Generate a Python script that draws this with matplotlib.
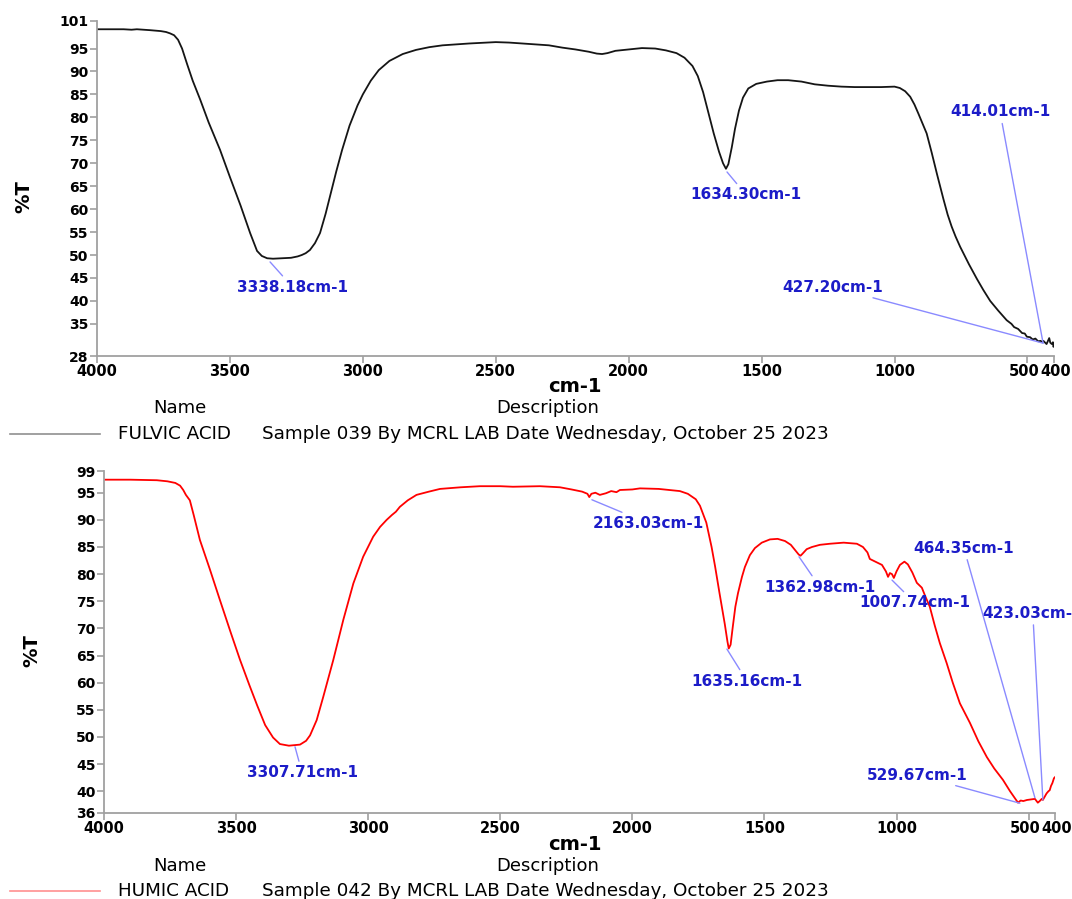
import matplotlib
matplotlib.use('Agg')
import matplotlib.pyplot as plt
from matplotlib.transforms import ScaledTranslation

plt.rcParams['font.family'] = ['DejaVu Sans']

# FULVIC ACID spectrum: (wavenumber cm-1, %T)
fulvic = [(4000, 99.2), (3950, 99.2), (3900, 99.2), (3870, 99.1), (3850, 99.2), (3800, 99.0),
          (3760, 98.8), (3740, 98.6), (3725, 98.3), (3710, 97.9), (3695, 96.9), (3680, 95.0),
          (3661, 91.6), (3640, 88.0), (3612, 83.9), (3580, 78.9), (3537, 72.9), (3500, 67.0),
          (3460, 60.8), (3424, 54.8), (3398, 50.9), (3380, 49.8), (3360, 49.3), (3338, 49.2),
          (3300, 49.3), (3270, 49.4), (3245, 49.7), (3230, 50.0), (3215, 50.4), (3199, 51.1),
          (3180, 52.6), (3161, 54.8), (3140, 59.0), (3120, 63.6), (3100, 68.2), (3078, 72.9),
          (3050, 78.2), (3020, 82.6), (3000, 85.0), (2970, 88.0), (2940, 90.3), (2900, 92.3),
          (2850, 93.8), (2800, 94.7), (2750, 95.3), (2700, 95.7), (2600, 96.1), (2500, 96.4),
          (2450, 96.3), (2400, 96.1), (2300, 95.7), (2250, 95.2), (2200, 94.8), (2150, 94.3),
          (2120, 93.9), (2100, 93.8), (2080, 94.0), (2050, 94.5), (2000, 94.8), (1950, 95.1),
          (1900, 95.0), (1860, 94.6), (1820, 94.0), (1790, 93.0), (1760, 91.2), (1740, 89.0),
          (1720, 85.5), (1700, 81.0), (1680, 76.5), (1660, 72.5), (1645, 70.0), (1634, 68.8),
          (1625, 69.8), (1612, 73.5), (1600, 77.5), (1585, 81.5), (1570, 84.3), (1550, 86.3),
          (1520, 87.3), (1480, 87.8), (1440, 88.1), (1400, 88.1), (1350, 87.8), (1300, 87.2),
          (1250, 86.9), (1200, 86.7), (1150, 86.6), (1100, 86.6), (1050, 86.6), (1000, 86.7),
          (980, 86.4), (960, 85.7), (941, 84.5), (925, 82.8), (910, 80.8), (895, 78.7),
          (879, 76.5), (860, 72.3), (840, 67.6), (816, 62.2), (800, 58.8), (785, 56.2),
          (770, 54.0), (753, 51.8), (735, 49.7), (720, 48.0), (690, 44.8), (666, 42.4),
          (640, 40.0), (610, 37.9), (578, 35.8), (560, 35.0), (550, 34.3), (535, 33.9),
          (520, 33.0), (510, 32.9), (502, 32.2), (490, 32.1), (480, 31.6), (470, 31.8),
          (460, 31.2), (450, 31.3), (445, 31.0), (440, 31.3), (435, 31.0), (428, 30.6),
          (422, 31.4), (418, 31.9), (414, 30.9), (408, 30.6), (404, 31.0), (402, 30.0),
          (400, 30.3)]

# HUMIC ACID spectrum: (wavenumber cm-1, %T)
humic = [(4000, 97.4), (3900, 97.4), (3800, 97.3), (3760, 97.1), (3730, 96.8), (3712, 96.3),
         (3700, 95.5), (3690, 94.6), (3675, 93.6), (3660, 90.8), (3637, 86.3), (3600, 81.0),
         (3561, 75.2), (3520, 69.2), (3485, 64.2), (3450, 59.6), (3420, 55.8), (3390, 52.2),
         (3360, 49.9), (3334, 48.7), (3300, 48.4), (3258, 48.6), (3235, 49.3), (3220, 50.3),
         (3195, 53.1), (3170, 57.4), (3132, 64.2), (3094, 71.6), (3056, 78.3), (3019, 83.2),
         (2981, 86.9), (2955, 88.7), (2930, 90.0), (2910, 90.9), (2895, 91.5), (2880, 92.4),
         (2850, 93.6), (2817, 94.6), (2770, 95.2), (2728, 95.7), (2650, 96.0), (2577, 96.2),
         (2500, 96.2), (2452, 96.1), (2350, 96.2), (2274, 96.0), (2230, 95.6), (2190, 95.2),
         (2170, 94.8), (2163, 94.2), (2155, 94.8), (2140, 95.0), (2123, 94.6), (2100, 94.9),
         (2080, 95.3), (2060, 95.1), (2047, 95.5), (2000, 95.6), (1971, 95.8), (1900, 95.7),
         (1860, 95.5), (1820, 95.3), (1790, 94.8), (1760, 93.8), (1744, 92.6), (1720, 89.5),
         (1700, 85.0), (1687, 81.5), (1670, 76.5), (1650, 70.8), (1640, 67.6), (1635, 66.3),
         (1628, 67.0), (1620, 70.2), (1610, 74.0), (1600, 76.5), (1585, 79.5), (1574, 81.3),
         (1555, 83.5), (1536, 84.8), (1510, 85.8), (1479, 86.4), (1450, 86.5), (1422, 86.1),
         (1400, 85.4), (1385, 84.5), (1370, 83.6), (1363, 83.4), (1355, 83.8), (1340, 84.6),
         (1320, 85.0), (1290, 85.4), (1252, 85.6), (1200, 85.8), (1176, 85.7), (1150, 85.6),
         (1127, 85.0), (1110, 84.0), (1101, 82.8), (1080, 82.3), (1055, 81.7), (1040, 80.5),
         (1032, 79.5), (1025, 80.2), (1017, 80.0), (1010, 79.3), (1000, 80.5), (987, 81.7),
         (970, 82.3), (957, 81.8), (940, 80.3), (923, 78.4), (904, 77.5), (890, 75.8),
         (874, 74.0), (855, 70.5), (836, 67.3), (810, 63.6), (787, 60.0), (760, 56.2),
         (722, 52.6), (690, 49.2), (658, 46.3), (630, 44.2), (597, 42.1), (570, 40.0),
         (540, 37.9), (530, 38.3), (520, 38.2), (506, 38.4), (490, 38.5), (476, 38.6),
         (470, 38.2), (465, 37.9), (458, 38.2), (450, 38.6), (446, 38.4), (440, 38.9),
         (432, 39.6), (425, 40.0), (420, 40.2), (415, 41.0), (410, 41.5), (404, 42.4),
         (400, 42.6)]

fulvic_wn, fulvic_t = zip(*fulvic)
humic_wn, humic_t = zip(*humic)

x_ticks = [4000, 3500, 3000, 2500, 2000, 1500, 1000, 500, 400]
fulvic_yticks = [28, 35, 40, 45, 50, 55, 60, 65, 70, 75, 80, 85, 90, 95, 101]
humic_yticks = [36, 40, 45, 50, 55, 60, 65, 70, 75, 80, 85, 90, 95, 99]

# peak labels: (label, leader end on curve, text position)
fulvic_peaks = [('3338.18cm-1', (3349, 48.5), (3264, 43.0)),
                ('1634.30cm-1', (1630, 68.1), (1558, 63.1)),
                ('414.01cm-1', (441, 30.8), (603, 81.2)),
                ('427.20cm-1', (441, 30.8), (1231, 43.0))]
humic_peaks = [('3307.71cm-1', (3277, 48.2), (3250, 43.4)),
               ('2163.03cm-1', (2153, 93.7), (1941, 89.4)),
               ('1635.16cm-1', (1642, 66.2), (1566, 60.3)),
               ('1362.98cm-1', (1369, 83.2), (1290, 77.6)),
               ('1007.74cm-1', (1017, 78.9), (930, 74.7)),
               ('464.35cm-1', (476, 38.8), (745, 84.8)),
               ('423.03cm-1', (446, 38.4), (484, 72.8)),
               ('529.67cm-1', (533, 37.8), (923, 43.0))]

LABEL_BLUE = '#1c1cc8'
LEADER_BLUE = '#8a8aff'
AXIS_GRAY = '#a0a0a0'


def style_axes(fig, ax, yticks, ylim):
    ax.set_xlim(4000, 400)
    ax.set_ylim(*ylim)
    ax.set_xticks(x_ticks)
    ax.set_yticks(yticks)
    for s in ['top', 'right']:
        ax.spines[s].set_visible(False)
    for s in ['left', 'bottom']:
        ax.spines[s].set_color(AXIS_GRAY)
        ax.spines[s].set_linewidth(1.3)
    ax.tick_params(colors=AXIS_GRAY, length=5, width=1.2, labelcolor='black', pad=1)
    xlabs = ax.get_xticklabels()
    for lab in xlabs:
        lab.set_fontweight('bold')
        lab.set_fontsize(10.5)
    # 500 and 400 sit close together, nudge them apart a little
    xlabs[-2].set_transform(xlabs[-2].get_transform() + ScaledTranslation(-3 / 100, 0, fig.dpi_scale_trans))
    xlabs[-1].set_transform(xlabs[-1].get_transform() + ScaledTranslation(2 / 100, 0, fig.dpi_scale_trans))
    for lab in ax.get_yticklabels():
        lab.set_fontweight('bold')
        lab.set_fontsize(10)
    ax.set_ylabel('%T', fontsize=14, fontweight='bold')
    ax.yaxis.set_label_coords(-0.066, 0.475)


def add_peaks(ax, peaks):
    for txt, xy, xyt in peaks:
        ax.annotate(txt, xy=xy, xytext=xyt, ha='center', va='center',
                    fontsize=11, fontweight='bold', color=LABEL_BLUE,
                    annotation_clip=False,
                    arrowprops=dict(arrowstyle='-', color=LEADER_BLUE, lw=1.0,
                                    shrinkA=1, shrinkB=0))


def add_footer(fig, y_axis_lbl, y_head, y_row, name, desc, color):
    fig.text(575 / 1072, 1 - y_axis_lbl / 899, 'cm-1', ha='center', va='center',
             fontsize=14, fontweight='bold')
    fig.text(180 / 1072, 1 - y_head / 899, 'Name', ha='center', va='center', fontsize=13)
    fig.text(548 / 1072, 1 - y_head / 899, 'Description', ha='center', va='center', fontsize=13)
    fig.add_artist(plt.Line2D([10 / 1072, 100 / 1072], [1 - y_row / 899, 1 - y_row / 899],
                              color=color, lw=1.2))
    fig.text(118 / 1072, 1 - y_row / 899, name, ha='left', va='center', fontsize=13.2)
    fig.text(262 / 1072, 1 - y_row / 899, desc, ha='left', va='center', fontsize=13.2)


fig = plt.figure(figsize=(10.72, 8.99), dpi=100)
ax1 = fig.add_axes([97 / 1072, 1 - 356 / 899, (1054 - 97) / 1072, (356 - 21) / 899])
ax2 = fig.add_axes([104 / 1072, 1 - 813 / 899, (1055 - 104) / 1072, (813 - 471) / 899])

ax1.plot(fulvic_wn, fulvic_t, color='#151515', lw=1.3)
style_axes(fig, ax1, fulvic_yticks, (28, 101))
add_peaks(ax1, fulvic_peaks)

ax2.plot(humic_wn, humic_t, color='#ff0000', lw=1.3)
style_axes(fig, ax2, humic_yticks, (36, 99))
add_peaks(ax2, humic_peaks)

add_footer(fig, 386, 408, 434, 'FULVIC ACID',
           'Sample 039 By MCRL LAB Date Wednesday, October 25 2023', '#909090')
add_footer(fig, 845, 866, 891, 'HUMIC ACID',
           'Sample 042 By MCRL LAB Date Wednesday, October 25 2023', '#ff9090')

fig.savefig('out.png', dpi=100)
